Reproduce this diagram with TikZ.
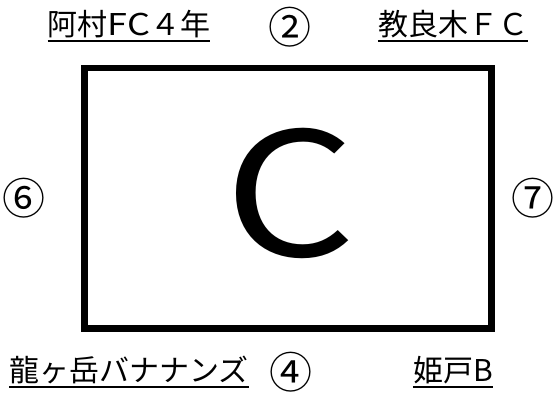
\documentclass[tikz,border=0pt]{standalone}
\usepackage{fontspec}
\setmainfont{Noto Sans CJK JP}
\begin{document}
\begin{tikzpicture}[x=1pt,y=-1pt,
  team/.style={inner sep=0pt, anchor=base, font=\fontsize{30}{30}\selectfont},
  num/.style={inner sep=0pt, font=\fontsize{43}{43}\selectfont},
  uline/.style={line width=1.5pt},
  field/.style={line width=6.5pt, line join=miter}]
\useasboundingbox (0,0) rectangle (556,392);
\node[field, draw, minimum width=407pt, minimum height=260.5pt, inner sep=0pt] (box) at (288,198.25) {};
\node[inner sep=0pt, font=\fontsize{172}{172}\selectfont] (big) at (290,193) {\scalebox{1.2}[1]{C}};
\node[team] (tl) at (129,35) {阿村\scalebox{1.2}[1]{FC}４年};
\node[team] (tr) at (453,35) {教良木ＦＣ};
\node[team] (bl) at (129,381) {龍ヶ岳バナナンズ};
\node[team] (br) at (453,381) {姫戸B};
\node[num] (n2) at (290,27) {②};
\node[num] (n4) at (291,372) {④};
\node[num] (n6) at (24,198) {⑥};
\node[num] (n7) at (533,198) {⑦};
\foreach \n in {tl,tr,bl,br}{
  \draw[uline] ([yshift=-6pt]\n.base west) -- ([yshift=-6pt]\n.base east);
}
\end{tikzpicture}
\end{document}
